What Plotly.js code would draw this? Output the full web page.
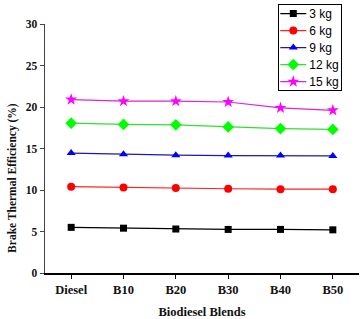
<!DOCTYPE html>
<html>
<head>
<meta charset="utf-8">
<script src="https://cdn.plot.ly/plotly-3.0.1.min.js"></script>
<style>
  html, body { margin: 0; padding: 0; background: #fff; }
  #chart { width: 363px; height: 319px; }
</style>
</head>
<body>
<div id="chart"></div>
<script>
// Biodiesel blends on the x axis
const blends = ["Diesel", "B10", "B20", "B30", "B40", "B50"];

// Brake thermal efficiency (%) for each engine load
const load3kg  = [5.5, 5.4, 5.3, 5.25, 5.25, 5.2];
const load6kg  = [10.4, 10.3, 10.25, 10.15, 10.1, 10.1];
const load9kg  = [14.45, 14.3, 14.2, 14.15, 14.15, 14.1];
const load12kg = [18.05, 17.9, 17.85, 17.6, 17.4, 17.3];
const load15kg = [20.9, 20.7, 20.7, 20.6, 19.9, 19.6];

const seriesNames = ["3 kg", "6 kg", "9 kg", "12 kg", "15 kg"];
const yTickVals = [0, 5, 10, 15, 20, 25, 30];

const styles = [
  { color: "#000000", line: "#000000", symbol: "square", size: 7 },
  { color: "#ff0000", line: "#ff2020", symbol: "circle", size: 8 },
  { color: "#0000ff", line: "#1a1ab0", symbol: "triangle-up", size: 8 },
  { color: "#00ff00", line: "#30e030", symbol: "diamond", size: 9 },
  { color: "#ff00ff", line: "#e020e0", symbol: "star", size: 9 }
];

const allSeries = [load3kg, load6kg, load9kg, load12kg, load15kg];

const traces = allSeries.map((vals, i) => ({
  x: blends,
  y: vals,
  name: seriesNames[i],
  type: "scatter",
  mode: "lines+markers",
  line: { color: styles[i].line, width: 1.2 },
  marker: { color: styles[i].color, symbol: styles[i].symbol, size: styles[i].size }
}));

const serifBold = { family: "Liberation Serif, Times New Roman, serif", weight: "bold", color: "#111" };

const layout = {
  width: 363,
  height: 319,
  margin: { l: 45, r: 4, t: 22, b: 46 },
  paper_bgcolor: "#ffffff",
  plot_bgcolor: "#ffffff",
  showlegend: true,
  legend: {
    x: 0.743, y: 1.082, xanchor: "left", yanchor: "top",
    bgcolor: "#ffffff", bordercolor: "#000000", borderwidth: 1,
    font: { family: "Liberation Sans, Arial, sans-serif", size: 12, color: "#000" },
    itemwidth: 30, tracegroupgap: 0
  },
  xaxis: {
    type: "category",
    range: [-0.5, 5.5],
    showgrid: false, zeroline: false,
    showline: true, linecolor: "#000", linewidth: 1.5,
    ticks: "outside", ticklen: 4, tickcolor: "#000", tickwidth: 1,
    tickfont: Object.assign({ size: 12.5 }, serifBold),
    title: { text: "Biodiesel Blends", font: Object.assign({ size: 12.5 }, serifBold), standoff: 16 }
  },
  yaxis: {
    range: [0, 30],
    tickvals: yTickVals,
    showgrid: false, zeroline: false,
    showline: true, linecolor: "#444", linewidth: 1.5,
    ticks: "outside", ticklen: 4, tickcolor: "#444", tickwidth: 1,
    tickfont: Object.assign({ size: 11.5 }, serifBold)
  },
  // y-axis title sits below the axis midpoint, so it is placed as an annotation
  annotations: [{
    text: "Brake Thermal Efficiency (%)",
    textangle: -90,
    xref: "paper", yref: "paper",
    x: 0, y: 0.382, xanchor: "center", yanchor: "middle",
    xshift: -32,
    showarrow: false,
    font: Object.assign({ size: 11.5 }, serifBold)
  }]
};

// Tighten the legend: 17px rows, shorter sample lines, narrower box
function compactLegend(gd) {
  const leg = gd.querySelector(".legend");
  if (!leg) return;
  const rowGap = 17, firstRow = 10;
  const items = leg.querySelectorAll(".traces");
  items.forEach((g, i) => {
    const m = /translate\(([-\d.]+),\s*([-\d.]+)\)/.exec(g.getAttribute("transform") || "");
    const x = m ? parseFloat(m[1]) : 1;
    g.setAttribute("transform", "translate(" + x + "," + (firstRow + i * rowGap) + ")");
    g.querySelectorAll(".legendlines path").forEach(p => p.setAttribute("d", "M1,0h26"));
    g.querySelectorAll(".legendpoints path").forEach(p => p.setAttribute("transform", "translate(14,0)"));
    const t = g.querySelector(".legendtext");
    if (t) t.setAttribute("x", 30);
    const tog = g.querySelector(".legendtoggle");
    if (tog) { tog.setAttribute("width", 60); }
  });
  const bg = leg.querySelector(".bg");
  if (bg) {
    bg.setAttribute("width", 63);
    bg.setAttribute("height", firstRow + (items.length - 1) * rowGap + 8);
  }
}

Plotly.newPlot("chart", traces, layout, { displayModeBar: false, staticPlot: true })
  .then(compactLegend);
</script>
</body>
</html>
